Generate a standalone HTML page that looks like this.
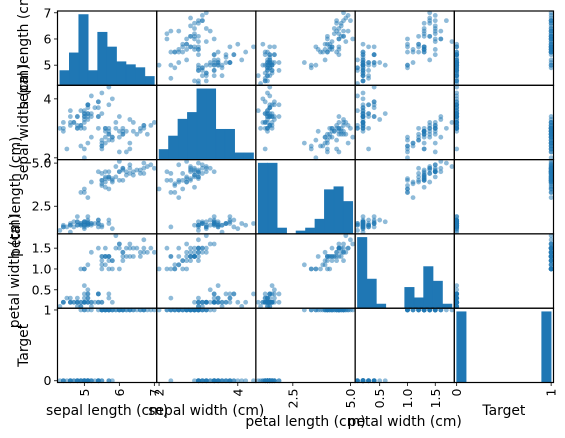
<!DOCTYPE html>
<html><head><meta charset="utf-8"><style>
body{margin:0;background:#fff;}
svg{display:block;font-family:"DejaVu Sans","Liberation Sans",sans-serif;}
</style></head><body>
<svg id="chart" width="565" height="438" viewBox="0 0 565 438" xmlns="http://www.w3.org/2000/svg"></svg>
<script>
const columns = ["sepal length (cm)","sepal width (cm)","petal length (cm)","petal width (cm)","Target"];
const sepalLength = [5.1,4.9,4.7,4.6,5.0,5.4,4.6,5.0,4.4,4.9,5.4,4.8,4.8,4.3,5.8,5.7,5.4,5.1,5.7,5.1,5.4,5.1,4.6,5.1,4.8,5.0,5.0,5.2,5.2,4.7,4.8,5.4,5.2,5.5,4.9,5.0,5.5,4.9,4.4,5.1,5.0,4.5,4.4,5.0,5.1,4.8,5.1,4.6,5.3,5.0,
7.0,6.4,6.9,5.5,6.5,5.7,6.3,4.9,6.6,5.2,5.0,5.9,6.0,6.1,5.6,6.7,5.6,5.8,6.2,5.6,5.9,6.1,6.3,6.1,6.4,6.6,6.8,6.7,6.0,5.7,5.5,5.5,5.8,6.0,5.4,6.0,6.7,6.3,5.6,5.5,5.5,6.1,5.8,5.0,5.6,5.7,5.7,6.2,5.1,5.7];
const sepalWidth = [3.5,3.0,3.2,3.1,3.6,3.9,3.4,3.4,2.9,3.1,3.7,3.4,3.0,3.0,4.0,4.4,3.9,3.5,3.8,3.8,3.4,3.7,3.6,3.3,3.4,3.0,3.4,3.5,3.4,3.2,3.1,3.4,4.1,4.2,3.1,3.2,3.5,3.6,3.0,3.4,3.5,2.3,3.2,3.5,3.8,3.0,3.8,3.2,3.7,3.3,
3.2,3.2,3.1,2.3,2.8,2.8,3.3,2.4,2.9,2.7,2.0,3.0,2.2,2.9,2.9,3.1,3.0,2.7,2.2,2.5,3.2,2.8,2.5,2.8,2.9,3.0,2.8,3.0,2.9,2.6,2.4,2.4,2.7,2.7,3.0,3.4,3.1,2.3,3.0,2.5,2.6,3.0,2.6,2.3,2.7,3.0,2.9,2.9,2.5,2.8];
const petalLength = [1.4,1.4,1.3,1.5,1.4,1.7,1.4,1.5,1.4,1.5,1.5,1.6,1.4,1.1,1.2,1.5,1.3,1.4,1.7,1.5,1.7,1.5,1.0,1.7,1.9,1.6,1.6,1.5,1.4,1.6,1.6,1.5,1.5,1.4,1.5,1.2,1.3,1.4,1.3,1.5,1.3,1.3,1.3,1.6,1.9,1.4,1.6,1.4,1.5,1.4,
4.7,4.5,4.9,4.0,4.6,4.5,4.7,3.3,4.6,3.9,3.5,4.2,4.0,4.7,3.6,4.4,4.5,4.1,4.5,3.9,4.8,4.0,4.9,4.7,4.3,4.4,4.8,5.0,4.5,3.5,3.8,3.7,3.9,5.1,4.5,4.5,4.7,4.4,4.1,4.0,4.4,4.6,4.0,3.3,4.2,4.2,4.2,4.3,3.0,4.1];
const petalWidth = [0.2,0.2,0.2,0.2,0.2,0.4,0.3,0.2,0.2,0.1,0.2,0.2,0.1,0.1,0.2,0.4,0.4,0.3,0.3,0.3,0.2,0.4,0.2,0.5,0.2,0.2,0.4,0.2,0.2,0.2,0.2,0.4,0.1,0.2,0.2,0.2,0.2,0.1,0.2,0.2,0.3,0.3,0.2,0.6,0.4,0.3,0.2,0.2,0.2,0.2,
1.4,1.5,1.5,1.3,1.5,1.3,1.6,1.0,1.3,1.4,1.0,1.5,1.0,1.4,1.3,1.4,1.5,1.0,1.5,1.1,1.8,1.3,1.5,1.2,1.3,1.4,1.4,1.7,1.5,1.0,1.1,1.0,1.2,1.6,1.5,1.6,1.5,1.3,1.3,1.3,1.2,1.4,1.2,1.0,1.3,1.2,1.3,1.3,1.1,1.3];
const target = [0,0,0,0,0,0,0,0,0,0,0,0,0,0,0,0,0,0,0,0,0,0,0,0,0,0,0,0,0,0,0,0,0,0,0,0,0,0,0,0,0,0,0,0,0,0,0,0,0,0,
1,1,1,1,1,1,1,1,1,1,1,1,1,1,1,1,1,1,1,1,1,1,1,1,1,1,1,1,1,1,1,1,1,1,1,1,1,1,1,1,1,1,1,1,1,1,1,1,1,1];
const tickValues = [[5,6,7],[2,4],[2.5,5.0],[0.5,1.0,1.5],[0,1]];
const tickLabels = [["5","6","7"],["2","4"],["2.5","5.0"],["0.5","1.0","1.5"],["0","1"]];

const svg = document.getElementById('chart');
const NS = 'http://www.w3.org/2000/svg';
const data = [sepalLength, sepalWidth, petalLength, petalWidth, target];
const L = 57.5, T = 11, W = 99.2, H = 74.3, N = 5;
const doms = data.map(a => { const mn = Math.min(...a), mx = Math.max(...a), e = (mx - mn) * 0.025; return [mn - e, mx + e]; });
function xs(c, v) { const d = doms[c]; return L + c * W + (v - d[0]) / (d[1] - d[0]) * W; }
function ys(r, v) { const d = doms[r]; return T + (r + 1) * H - (v - d[0]) / (d[1] - d[0]) * H; }
function mk(tag, attrs, parent) { const e = document.createElementNS(NS, tag); for (const k in attrs) e.setAttribute(k, attrs[k]); (parent || svg).appendChild(e); return e; }
const fmt = v => +v.toFixed(3);

for (let r = 0; r < N; r++) {
  for (let c = 0; c < N; c++) {
    const g = mk('g', {});
    
    
    const x0 = L + c * W, y0 = T + r * H;
    if (r === c) {
      const a = data[c], mn = Math.min(...a), mx = Math.max(...a), bw = (mx - mn) / 10;
      const counts = new Array(10).fill(0);
      a.forEach(v => { let i = Math.floor((v - mn) / bw + 1e-9); if (i > 9) i = 9; counts[i]++; });
      const cmax = Math.max(...counts) * 1.05;
      counts.forEach((n, i) => {
        if (!n) return;
        const xa = xs(c, mn + i * bw), xb = xs(c, mn + (i + 1) * bw);
        const h = n / cmax * H;
        const b = mk('rect', { x: fmt(xa), y: fmt(y0 + H - h), width: fmt(xb - xa), height: fmt(h), fill: '#1f77b4', stroke: '#1f77b4', 'stroke-width': 0.6 }, g);
        
        
      });
    } else {
      const ax = data[c], ay = data[r];
      ax.forEach((v, i) => {
        const p = mk('circle', { cx: fmt(xs(c, v)), cy: fmt(ys(r, ay[i])), r: 2.4, fill: '#1f77b4', 'fill-opacity': 0.5 }, g);
        
        
      });
    }
    const fr = mk('rect', { x: x0, y: y0, width: W, height: H, fill: 'none', stroke: '#000', 'stroke-width': 1.2 }, g);
    
    
  }
}
const yb = T + N * H;
const xLabelY = [415, 415, 426, 426, 415];
for (let c = 0; c < N; c++) {
  tickValues[c].forEach((v, i) => {
    const x = xs(c, v);
    mk('line', { x1: x, x2: x, y1: yb, y2: yb + 3.5, stroke: '#000', 'stroke-width': 0.8 });
    const t = mk('text', { x: 0, y: 0, 'font-size': 12.5, 'text-anchor': 'end', 'dominant-baseline': 'central', transform: `translate(${fmt(x)},${yb + 6}) rotate(-90)` });
    t.textContent = tickLabels[c][i];
    
    
  });
  const lb = mk('text', { x: fmt(L + c * W + W / 2), y: xLabelY[c], 'font-size': 13.9, 'text-anchor': 'middle' });
  lb.textContent = columns[c];
  
  
}
const yLabelX = [28, 28, 20, 19, 28];
for (let r = 0; r < N; r++) {
  tickValues[r].forEach((v, i) => {
    const y = ys(r, v);
    mk('line', { x1: L - 3.5, x2: L, y1: y, y2: y, stroke: '#000', 'stroke-width': 0.8 });
    const t = mk('text', { x: L - 6, y: fmt(y), 'font-size': 12.5, 'text-anchor': 'end', 'dominant-baseline': 'central' });
    t.textContent = tickLabels[r][i];
    
    
  });
  const lb = mk('text', { x: 0, y: 0, 'font-size': 13.9, 'text-anchor': 'middle', transform: `translate(${yLabelX[r]},${fmt(T + r * H + H / 2)}) rotate(-90)` });
  lb.textContent = columns[r];
  
  
}
</script>
</body></html>
